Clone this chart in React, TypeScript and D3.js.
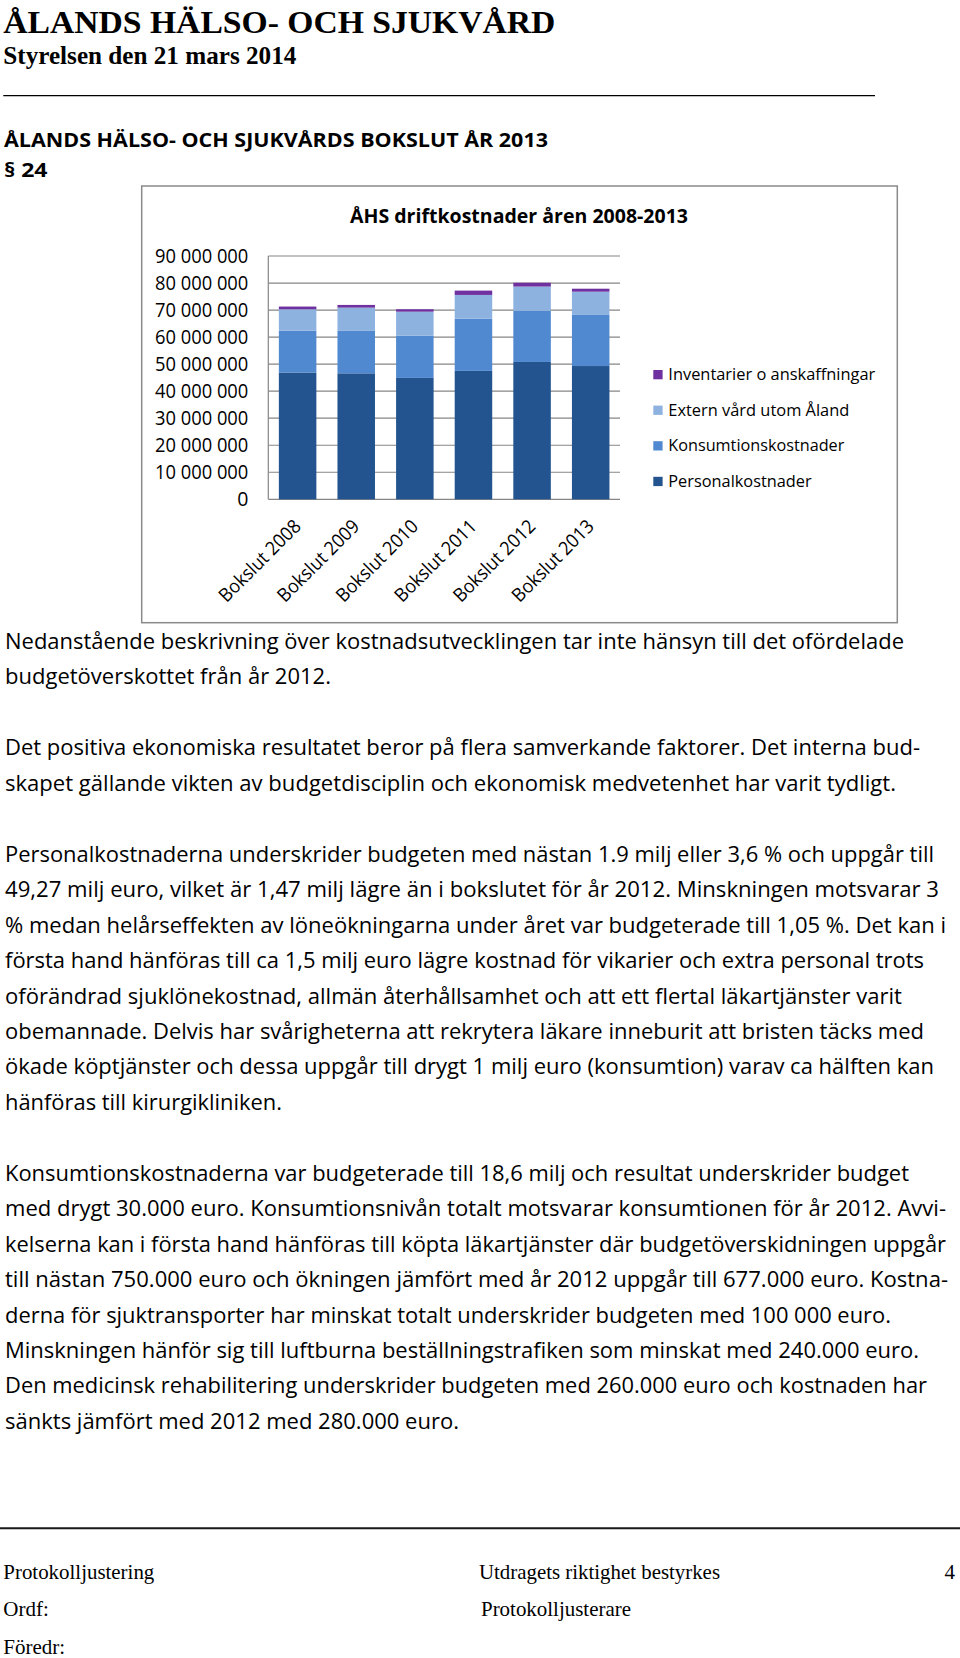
import React from "react";
import * as d3 from "d3";

// ---- Chart data ----
const categories = ["Bokslut 2008", "Bokslut 2009", "Bokslut 2010", "Bokslut 2011", "Bokslut 2012", "Bokslut 2013"];
const personalkostnader = [46.9e6, 46.6e6, 44.9e6, 47.5e6, 50.8e6, 49.3e6];
const konsumtionskostnader = [15.5e6, 15.7e6, 15.6e6, 19.3e6, 18.9e6, 18.9e6];
const externVard = [7.9e6, 8.6e6, 8.9e6, 8.8e6, 9.0e6, 8.6e6];
const inventarier = [1.0e6, 1.0e6, 0.9e6, 1.6e6, 1.4e6, 1.1e6];
const seriesNames = ["Personalkostnader", "Konsumtionskostnader", "Extern vård utom Åland", "Inventarier o anskaffningar"];
const seriesColors = ["#24548f", "#5089d0", "#8db2e0", "#7031a0"];
const yTicks = [0, 10e6, 20e6, 30e6, 40e6, 50e6, 60e6, 70e6, 80e6, 90e6];
const chartTitle = "ÅHS driftkostnader åren 2008-2013";

// ---- Document text ----
const bodyLines: [number, string, number][] = [
  [0, "Nedanstående beskrivning över kostnadsutvecklingen tar inte hänsyn till det ofördelade", 899],
  [1, "budgetöverskottet från år 2012.", 326],
  [3, "Det positiva ekonomiska resultatet beror på flera samverkande faktorer. Det interna bud-", 915],
  [4, "skapet gällande vikten av budgetdisciplin och ekonomisk medvetenhet har varit tydligt.", 891],
  [6, "Personalkostnaderna underskrider budgeten med nästan 1.9 milj eller 3,6 % och uppgår till", 929],
  [7, "49,27 milj euro, vilket är 1,47 milj lägre än i bokslutet för år 2012. Minskningen motsvarar 3", 934],
  [8, "% medan helårseffekten av löneökningarna under året var budgeterade till 1,05 %. Det kan i", 941],
  [9, "första hand hänföras till ca 1,5 milj euro lägre kostnad för vikarier och extra personal trots", 919],
  [10, "oförändrad sjuklönekostnad, allmän återhållsamhet och att ett flertal läkartjänster varit", 897],
  [11, "obemannade. Delvis har svårigheterna att rekrytera läkare inneburit att bristen täcks med", 919],
  [12, "ökade köptjänster och dessa uppgår till drygt 1 milj euro (konsumtion) varav ca hälften kan", 929],
  [13, "hänföras till kirurgikliniken.", 277],
  [15, "Konsumtionskostnaderna var budgeterade till 18,6 milj och resultat underskrider budget", 904],
  [16, "med drygt 30.000 euro. Konsumtionsnivån totalt motsvarar konsumtionen för år 2012. Avvi-", 941],
  [17, "kelserna kan i första hand hänföras till köpta läkartjänster där budgetöverskidningen uppgår", 941],
  [18, "till nästan 750.000 euro och ökningen jämfört med år 2012 uppgår till 677.000 euro. Kostna-", 943],
  [19, "derna för sjuktransporter har minskat totalt underskrider budgeten med 100 000 euro.", 886],
  [20, "Minskningen hänför sig till luftburna beställningstrafiken som minskat med 240.000 euro.", 914],
  [21, "Den medicinsk rehabilitering underskrider budgeten med 260.000 euro och kostnaden har", 922],
  [22, "sänkts jämfört med 2012 med 280.000 euro.", 454],
];

const SANS = "'Open Sans', 'Noto Sans', sans-serif";
const SERIF = "'Liberation Serif', 'Times New Roman', serif";

export default function App() {
  const W = 960, H = 1658;
  const plotL = 268.3, plotR = 620, plotT = 256, plotB = 499.3;

  const x = d3.scaleBand<string>().domain(categories).range([plotL, plotR]).paddingInner(0.36).paddingOuter(0.18);
  const y = d3.scaleLinear().domain([0, 90e6]).range([plotB, plotT]);

  const rows = categories.map((c, i) => ({
    cat: c,
    s0: personalkostnader[i],
    s1: konsumtionskostnader[i],
    s2: externVard[i],
    s3: inventarier[i],
  }));
  const stack = d3.stack<any>().keys(["s0", "s1", "s2", "s3"]);
  const stacked = stack(rows);

  const fmt = (v: number) => d3.format(",")(v).replace(/,/g, " ");

  const legendOrder = [3, 2, 1, 0];
  const legendWidths = [207, 181, 176, 143.4];

  return (
    <svg width={W} height={H} style={{ position: "absolute", left: 0, top: 0, background: "#fff" }}>
      <rect x={0} y={0} width={W} height={H} fill="#fff" />
      {/* Header */}
      <text x={3.3} y={33.3} fontFamily={SERIF} fontWeight="bold" fontSize={32} textLength={552} lengthAdjust="spacingAndGlyphs" fill="#000">ÅLANDS HÄLSO- OCH SJUKVÅRD</text>
      <text x={3.3} y={64} fontFamily={SERIF} fontWeight="bold" fontSize={24.5} textLength={293} lengthAdjust="spacingAndGlyphs" fill="#000">Styrelsen den 21 mars 2014</text>
      <line x1={3.3} x2={875} y1={95.7} y2={95.7} stroke="#000" strokeWidth={1.3} />
      <text x={4} y={147.3} fontFamily={SANS} fontWeight="bold" fontSize={19.6} textLength={544} lengthAdjust="spacingAndGlyphs" fill="#000">ÅLANDS HÄLSO- OCH SJUKVÅRDS BOKSLUT ÅR 2013</text>
      <text x={4} y={176.7} fontFamily={SANS} fontWeight="bold" fontSize={19.6} textLength={43.5} lengthAdjust="spacingAndGlyphs" fill="#000">§ 24</text>

      {/* Chart frame */}
      <rect x={141.7} y={186} width={755.6} height={436.7} fill="#fff" stroke="#8a8a8a" strokeWidth={1.5} />
      <text x={350} y={222.7} fontFamily={SANS} fontWeight="bold" fontSize={19.5} textLength={338} lengthAdjust="spacingAndGlyphs" fill="#000">{chartTitle}</text>

      {/* Gridlines */}
      {yTicks.map((t) => (
        <line key={t} x1={plotL} x2={plotR} y1={y(t)} y2={y(t)} stroke="#868686" strokeWidth={1.2} />
      ))}
      <line x1={plotL} x2={plotL} y1={plotT} y2={plotB} stroke="#868686" strokeWidth={1.2} />

      {/* Y labels */}
      {yTicks.map((t) => {
        const s = fmt(t);
        return (
          <text key={"l" + t} x={248.3} y={y(t) + 7} textAnchor="end" fontFamily={SANS} fontSize={19.5} fill="#000"
            {...(s.length > 1 ? { textLength: s.length === 10 ? 93.3 : 84, lengthAdjust: "spacingAndGlyphs" } : {})}>
            {s}
          </text>
        );
      })}

      {/* Bars */}
      {stacked.map((layer, si) => (
        <g key={si} fill={seriesColors[si]}>
          {layer.map((d: any, i: number) => (
            <rect key={i} x={x(categories[i])!} width={x.bandwidth()} y={y(d[1])} height={y(d[0]) - y(d[1])} />
          ))}
        </g>
      ))}

      {/* X labels */}
      {categories.map((c) => {
        const cx = x(c)! + x.bandwidth() / 2;
        return (
          <text key={c} transform={`translate(${cx + 4.5},${plotB + 28.2}) rotate(-45)`} textAnchor="end" fontFamily={SANS} fontSize={19} textLength={107} lengthAdjust="spacingAndGlyphs" fill="#000">
            {c}
          </text>
        );
      })}

      {/* Legend */}
      {legendOrder.map((si, k) => {
        const top = 370 + k * 35.6;
        return (
          <g key={si}>
            <rect x={653.3} y={top} width={9.3} height={9.3} fill={seriesColors[si]} />
            <text x={668.3} y={top + 10} fontFamily={SANS} fontSize={16.4} textLength={legendWidths[k]} lengthAdjust="spacingAndGlyphs" fill="#000">{seriesNames[si]}</text>
          </g>
        );
      })}

      {/* Body text */}
      {bodyLines.map(([k, s, w]) => (
        <text key={k} x={5} y={649 + k * 35.45} fontFamily={SANS} fontSize={21} textLength={w} lengthAdjust="spacingAndGlyphs" fill="#000">{s}</text>
      ))}

      {/* Footer */}
      <line x1={0} x2={W} y1={1528.3} y2={1528.3} stroke="#1a1a1a" strokeWidth={2} />
      <text x={3.3} y={1579} fontFamily={SERIF} fontSize={21} textLength={151} lengthAdjust="spacingAndGlyphs" fill="#000">Protokolljustering</text>
      <text x={479} y={1579} fontFamily={SERIF} fontSize={21} textLength={241} lengthAdjust="spacingAndGlyphs" fill="#000">Utdragets riktighet bestyrkes</text>
      <text x={955} y={1579} textAnchor="end" fontFamily={SERIF} fontSize={21} fill="#000">4</text>
      <text x={3.3} y={1616} fontFamily={SERIF} fontSize={21} fill="#000">Ordf:</text>
      <text x={481} y={1616} fontFamily={SERIF} fontSize={21} textLength={150} lengthAdjust="spacingAndGlyphs" fill="#000">Protokolljusterare</text>
      <text x={3.3} y={1654} fontFamily={SERIF} fontSize={21} fill="#000">Föredr:</text>
    </svg>
  );
}
